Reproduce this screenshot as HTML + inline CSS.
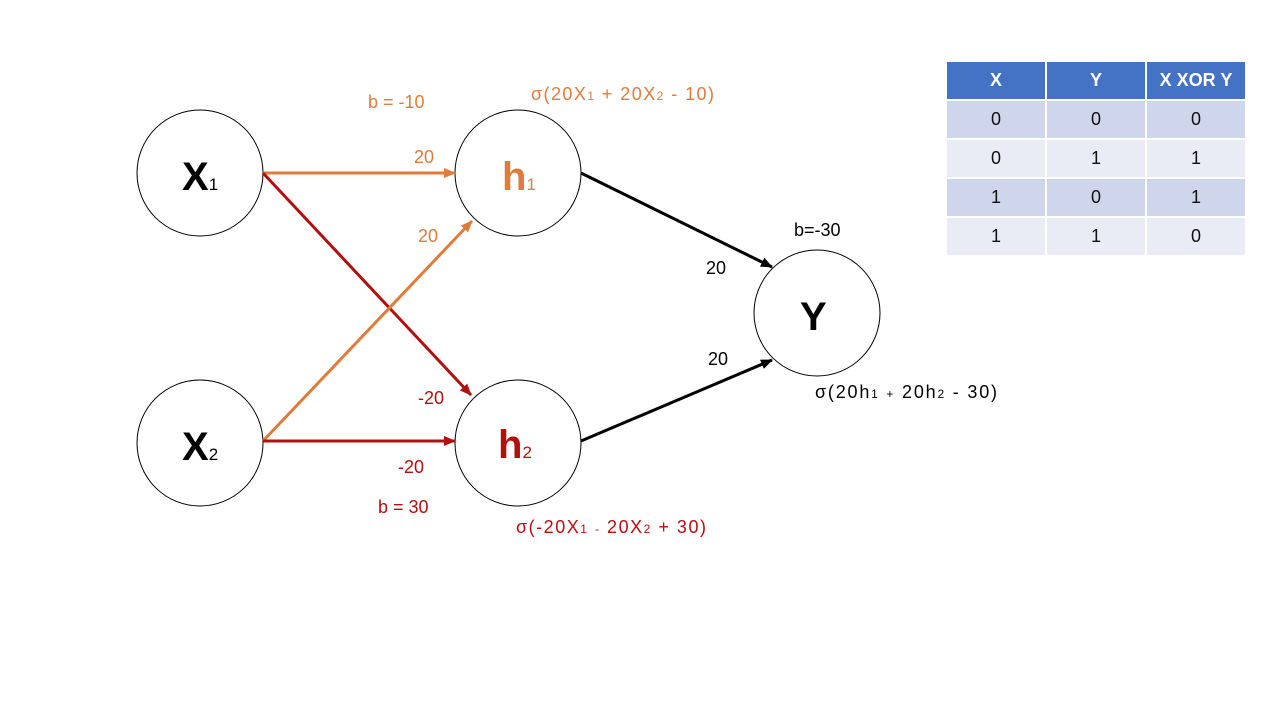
<!DOCTYPE html>
<html><head><meta charset="utf-8"><style>
body{margin:0;background:#fff;width:1280px;height:720px;overflow:hidden;font-family:"Liberation Sans",sans-serif}
svg text{font-family:"Liberation Sans",sans-serif}
table{position:absolute;left:945px;top:60px;border-collapse:collapse;font-size:18px;text-align:center}
td{width:98px;height:37px;border:2px solid #fff;padding:0;color:#111}
tr.h td{background:#4472C4;color:#fff;font-weight:bold}
tr.a td{background:#CFD5EA}tr.b td{background:#E9EBF5}
</style></head><body>
<svg width="1280" height="720" style="position:absolute;left:0;top:0">
<defs>
<marker id="o" markerWidth="12" markerHeight="10" refX="11" refY="5" orient="auto" markerUnits="userSpaceOnUse"><path d="M0,0L12,5L0,10z" fill="#E07B39"/></marker>
<marker id="r" markerWidth="12" markerHeight="10" refX="11" refY="5" orient="auto" markerUnits="userSpaceOnUse"><path d="M0,0L12,5L0,10z" fill="#B40F0F"/></marker>
<marker id="k" markerWidth="12" markerHeight="10" refX="11" refY="5" orient="auto" markerUnits="userSpaceOnUse"><path d="M0,0L12,5L0,10z" fill="#000"/></marker>
</defs>
<g fill="#fff" stroke="#000" stroke-width="1">
<circle cx="200" cy="173" r="63"/><circle cx="200" cy="443" r="63"/>
<circle cx="518" cy="173" r="63"/><circle cx="518" cy="443" r="63"/>
<circle cx="817" cy="313" r="63"/></g>
<g stroke-width="3" fill="none">
<line x1="263" y1="173" x2="455" y2="173" stroke="#E07B39" marker-end="url(#o)"/>
<line x1="263" y1="173" x2="471" y2="395" stroke="#B40F0F" marker-end="url(#r)"/>
<line x1="263" y1="441" x2="472" y2="221" stroke="#E07B39" marker-end="url(#o)"/>
<line x1="263" y1="441" x2="455" y2="441" stroke="#B40F0F" marker-end="url(#r)"/>
<line x1="581" y1="173" x2="772" y2="267" stroke="#000" marker-end="url(#k)"/>
<line x1="581" y1="441" x2="772" y2="360" stroke="#000" marker-end="url(#k)"/>
</g>
<g font-weight="bold" font-size="40">
<text x="182" y="190">X<tspan font-size="17" font-weight="normal">1</tspan></text>
<text x="182" y="460">X<tspan font-size="17" font-weight="normal">2</tspan></text>
<text x="502" y="190" fill="#E07B39">h<tspan font-size="17" font-weight="normal">1</tspan></text>
<text x="498" y="458" fill="#B40F0F">h<tspan font-size="17" font-weight="normal">2</tspan></text>
<text x="800" y="330">Y</text>
</g>
<g font-size="18" fill="#E07B39">
<text x="368" y="108">b = -10</text>
<text x="531" y="100" textLength="183" lengthAdjust="spacing">σ(20X<tspan font-size="12">1</tspan> + 20X<tspan font-size="12">2</tspan>  - 10)</text>
<text x="414" y="163">20</text>
<text x="418" y="242">20</text>
</g>
<g font-size="18" fill="#B40F0F">
<text x="418" y="404">-20</text>
<text x="398" y="473">-20</text>
<text x="378" y="513">b = 30</text>
<text x="516" y="533" textLength="190" lengthAdjust="spacing">σ(-20X<tspan font-size="12">1</tspan> <tspan font-size="12">-</tspan> 20X<tspan font-size="12">2</tspan>  + 30)</text>
</g>
<g font-size="18" fill="#000">
<text x="794" y="236">b=-30</text>
<text x="706" y="274">20</text>
<text x="708" y="365">20</text>
<text x="815" y="398" textLength="182" lengthAdjust="spacing">σ(20h<tspan font-size="12">1</tspan> <tspan font-size="12">+</tspan> 20h<tspan font-size="12">2</tspan>  - 30)</text>
</g>
</svg>
<table>
<tr class="h"><td>X</td><td>Y</td><td>X XOR Y</td></tr>
<tr class="a"><td>0</td><td>0</td><td>0</td></tr>
<tr class="b"><td>0</td><td>1</td><td>1</td></tr>
<tr class="a"><td>1</td><td>0</td><td>1</td></tr>
<tr class="b"><td>1</td><td>1</td><td>0</td></tr>
</table>
</body></html>
